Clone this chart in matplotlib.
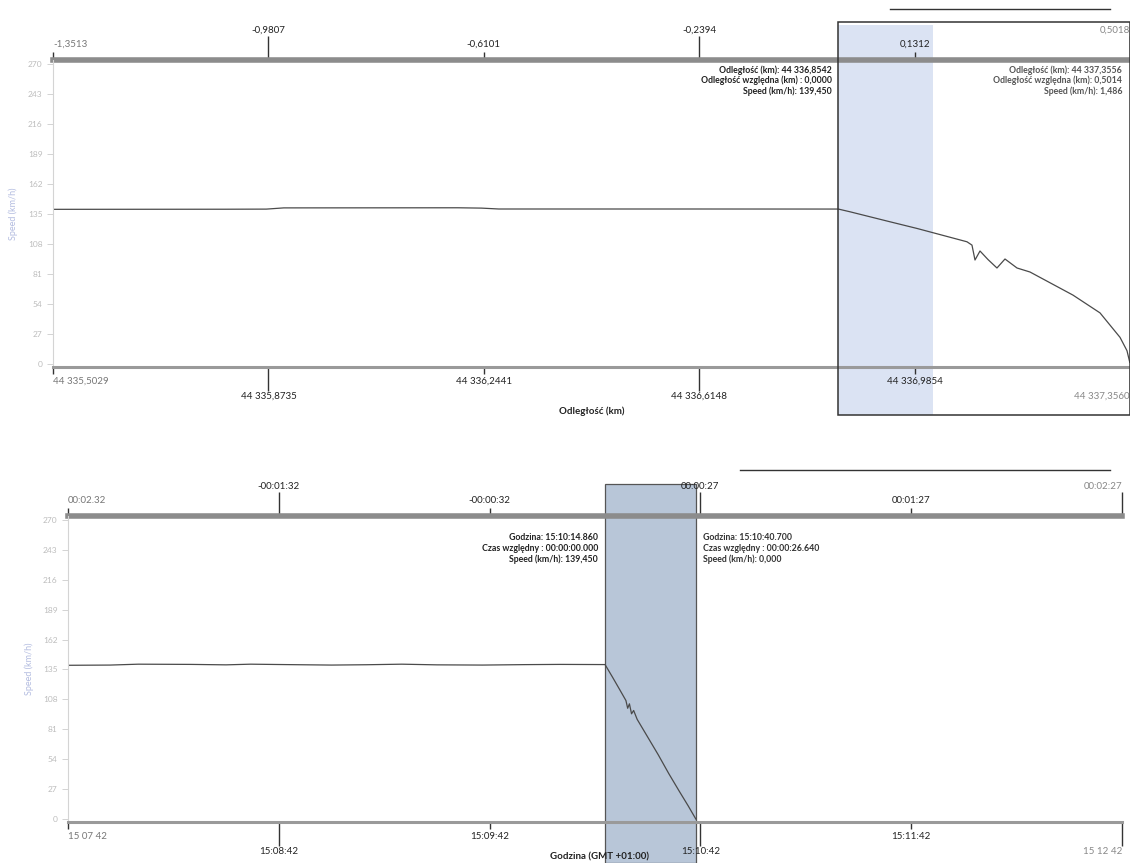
import numpy as np
import matplotlib
matplotlib.use('Agg')
import matplotlib.pyplot as plt
from matplotlib.patches import Rectangle
from matplotlib.lines import Line2D
from matplotlib.transforms import blended_transform_factory

plt.rcParams['font.family'] = ['Lato', 'DejaVu Sans']

W, H = 1130, 863  # figure size in px

# ---- top chart: speed vs distance
dist_km = [44335.5029, 44335.80, 44335.87, 44335.90, 44336.20, 44336.24, 44336.27,
           44336.60, 44336.8542, 44336.8742, 44336.9430, 44336.9895, 44337.0755,
           44337.0841, 44337.0893, 44337.0979, 44337.1117, 44337.1271, 44337.1409,
           44337.1616, 44337.1839, 44337.2579, 44337.3044, 44337.3388, 44337.3508,
           44337.3556]
dist_speed = [139.2, 139.3, 139.4, 140.5, 140.6, 140.3, 139.5,
              139.5, 139.45, 137.0, 128.0, 122.0, 110.0,
              107.0, 93.6, 101.7, 94.0, 86.4, 94.5,
              86.4, 82.8, 62.0, 46.0, 24.0, 12.0,
              1.486]
dist_cursor = 44336.8542
dist_end = 44337.3556
dist_ticks = [44335.5029, 44335.8735, 44336.2441, 44336.6148, 44336.9854, 44337.3560]
dist_tick_labels = ['44 335,5029', '44 335,8735', '44 336,2441', '44 336,6148',
                    '44 336,9854', '44 337,3560']
rel_dist_labels = ['-1,3513', '-0,9807', '-0,6101', '-0,2394', '0,1312', '0,5018']

# ---- bottom chart: speed vs time (seconds after 15:07:42)
time_s = [0, 12, 20, 35, 45, 52, 60, 75, 85, 95, 105, 118, 130, 140, 152.86,
          155, 157, 158.8, 159.3, 159.8, 160.4, 161, 162, 165, 168, 171, 174,
          176.5, 178.7]
time_speed = [138.8, 139.0, 139.8, 139.6, 139.2, 139.8, 139.5, 139.0, 139.3, 139.8,
              139.2, 139.0, 139.4, 139.6, 139.45,
              128.0, 117.0, 107.0, 100.0, 104.0, 95.0, 98.0, 90.0, 74.0, 58.0, 41.0,
              25.0, 12.0, 0.0]
time_cursor = 152.86
time_end = 178.70
time_ticks = [0, 60, 120, 180, 240, 300]
time_tick_labels = ['15 07 42', '15:08:42', '15:09:42', '15:10:42', '15:11:42', '15 12 42']
rel_time_labels = ['00:02.32', '-00:01:32', '-00:00:32', '00:00:27', '00:01:27', '00:02:27']

speed_ticks = [0, 27, 54, 81, 108, 135, 162, 189, 216, 243, 270]

fig = plt.figure(figsize=(W / 100, H / 100), dpi=100)


def px_axes(left, top, right, bottom):
    return fig.add_axes([left / W, 1 - bottom / H, (right - left) / W, (bottom - top) / H])


def fx(x):
    return x / W


def fy(y):
    return 1 - y / H


def style_panel(ax, xticks, xlabels, rel_func, rel_labels, ylabelpad):
    ax.set_ylim(-2.7, 273.6)
    ax.patch.set_alpha(0)
    for s in ['top', 'right']:
        ax.spines[s].set_visible(False)
    ax.spines['left'].set_color('#d4d4d4')
    ax.spines['left'].set_linewidth(0.8)
    ax.spines['bottom'].set_color('#9a9a9a')
    ax.spines['bottom'].set_linewidth(2.2)
    ax.set_yticks(speed_ticks)
    ax.tick_params(axis='y', colors='#cccccc', labelcolor='#bdbdbd', labelsize=6,
                   length=4, width=0.6)
    ax.set_ylabel('Speed (km/h)', color='#b3bce0', fontsize=6.5, labelpad=ylabelpad)

    # bottom axis: long ticks on odd positions, short on even positions
    ax.set_xticks(xticks[1::2], xlabels[1::2])
    ax.set_xticks(xticks[0::2], xlabels[0::2], minor=True)
    ax.tick_params(axis='x', which='major', length=17, width=1.0, color='#333333',
                   labelsize=7, labelcolor='#222222', pad=1)
    ax.tick_params(axis='x', which='minor', length=5, width=1.0, color='#333333',
                   labelsize=7, labelcolor='#222222', pad=2)
    minor_labels = ax.get_xticklabels(minor=True)
    major_labels = ax.get_xticklabels()
    minor_labels[0].set_ha('left')
    minor_labels[0].set_color('#777777')
    major_labels[-1].set_ha('right')
    major_labels[-1].set_color('#888888')

    # top axis with relative values
    sec = ax.secondary_xaxis('top', functions=rel_func)
    rel = [rel_func[0](t) for t in xticks]
    sec.set_xticks(rel[1::2], rel_labels[1::2])
    sec.set_xticks(rel[0::2], rel_labels[0::2], minor=True)
    sec.tick_params(which='major', length=17, width=1.0, color='#333333',
                    labelsize=7, labelcolor='#222222', pad=1)
    sec.tick_params(which='minor', length=6, width=1.0, color='#333333',
                    labelsize=7, labelcolor='#222222', pad=2)
    sec.spines['top'].set_color('#8c8c8c')
    sec.spines['top'].set_linewidth(4)
    smin = sec.get_xticklabels(minor=True)
    smaj = sec.get_xticklabels()
    smin[0].set_ha('left')
    smin[0].set_color('#777777')
    smaj[-1].set_ha('right')
    smaj[-1].set_color('#888888')
    return sec


# ================= top chart
ax1 = px_axes(53, 60, 1130, 367)
ax1.set_xlim(dist_ticks[0], dist_ticks[-1])
ax1.plot(dist_km, dist_speed, color='#4a4a4a', lw=0.9)
style_panel(ax1, dist_ticks, dist_tick_labels,
            (lambda x: x - dist_cursor, lambda x: x + dist_cursor),
            rel_dist_labels, 7.5)
ax1.set_xlabel('Odległość (km)', fontsize=7, fontweight='bold', color='#222222',
               labelpad=4)

tr1 = blended_transform_factory(ax1.transData, fig.transFigure)
fig.add_artist(Rectangle((dist_cursor, fy(415)), 0.163, fy(25) - fy(415),
                         transform=tr1, facecolor='#dbe3f3', edgecolor='none',
                         zorder=-2))
fig.add_artist(Rectangle((dist_cursor, fy(415)), dist_ticks[-1] - dist_cursor,
                         fy(22) - fy(415), transform=tr1, facecolor='none',
                         edgecolor='#333333', lw=1.1, zorder=3))

# cursor readouts
for i, s in enumerate(['Odległość (km): 44 336,8542', 'Odległość względna (km) : 0,0000',
                       'Speed (km/h): 139,450']):
    fig.text(fx(832), fy(70 + 10.5 * i), s, ha='right', va='center', fontsize=6.3,
             fontweight='bold', color='#222222')
for i, s in enumerate(['Odległość (km): 44 337,3556', 'Odległość względna (km): 0,5014',
                       'Speed (km/h): 1,486']):
    fig.text(fx(1122), fy(70 + 10.5 * i), s, ha='right', va='center', fontsize=6.3,
             fontweight='bold', color='#555555')

# ================= bottom chart
ax2 = px_axes(68, 516, 1122, 822)
ax2.set_xlim(time_ticks[0], time_ticks[-1])
ax2.plot(time_s, time_speed, color='#4a4a4a', lw=0.9)
style_panel(ax2, time_ticks, time_tick_labels,
            (lambda x: x - time_cursor, lambda x: x + time_cursor),
            rel_time_labels, 6.5)
fig.text(fx(600), fy(857), 'Godzina (GMT +01:00)', ha='center', va='center',
         fontsize=7, fontweight='bold', color='#222222')

tr2 = blended_transform_factory(ax2.transData, fig.transFigure)
fig.add_artist(Rectangle((time_cursor, 0), time_end - time_cursor, fy(484),
                         transform=tr2, facecolor='#b8c6d8', edgecolor='#555555',
                         lw=0.9, zorder=-2))

for i, s in enumerate(['Godzina: 15:10:14.860', 'Czas względny : 00:00:00.000',
                       'Speed (km/h): 139,450']):
    fig.text(fx(598), fy(538 + 10.5 * i), s, ha='right', va='center', fontsize=6.3,
             fontweight='bold', color='#222222')
for i, s in enumerate(['Godzina: 15:10:40.700', 'Czas względny : 00:00:26.640',
                       'Speed (km/h): 0,000']):
    fig.text(fx(703), fy(538 + 10.5 * i), s, ha='left', va='center', fontsize=6.3,
             fontweight='bold', color='#333333')

# thin rules above the panels
fig.add_artist(Line2D([fx(890), fx(1110)], [fy(9), fy(9)], color='#333333', lw=1.0))
fig.add_artist(Line2D([fx(740), fx(1110)], [fy(470), fy(470)], color='#333333', lw=1.0))

fig.savefig('out.png', dpi=100)
